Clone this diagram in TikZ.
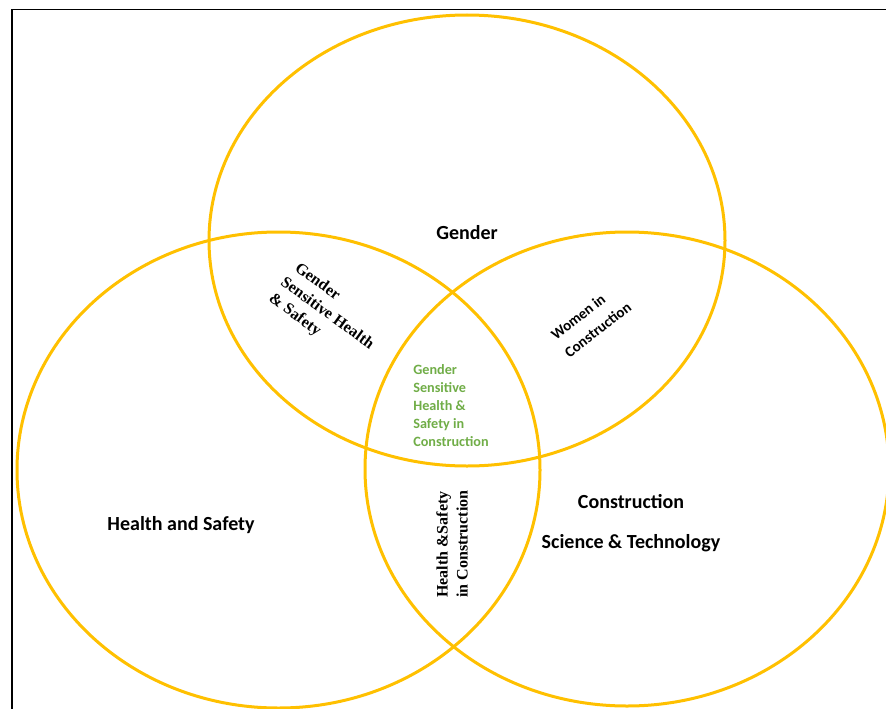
\documentclass[tikz,border=0pt]{standalone}
\usepackage{fontspec}
\setmainfont{Carlito}
\newfontfamily\timesb{Liberation Serif}
\begin{document}
\begin{tikzpicture}[x=1pt,y=-1pt,
  ring/.style={draw=ringgold,line width=3pt},
  mainlbl/.style={font=\fontsize{20}{24}\selectfont\bfseries,text=black,inner sep=0pt},
  seriflbl/.style={font=\timesb\fontsize{16}{20}\selectfont\bfseries,align=left,inner sep=0pt},
  sanslbl/.style={font=\fontsize{15}{22}\selectfont\bfseries,align=left,inner sep=0pt},
  corelbl/.style={font=\fontsize{14.2}{18}\selectfont\bfseries,text=coregreen,align=left,inner sep=0pt}]
\definecolor{ringgold}{HTML}{FFC000}
\definecolor{coregreen}{HTML}{70AD47}
\useasboundingbox (0,0) rectangle (886,709);
\begin{scope}
  \clip (0,0) rectangle (886,709);
  % outer frame
  \draw[line width=1.5pt] (12,9.5) rectangle (900,720);
  % the three sets
  \draw[ring] (467,240.5) ellipse [x radius=258, y radius=225.5];
  \draw[ring] (278.5,470) ellipse [x radius=261.5, y radius=238];
  \draw[ring] (627,469) ellipse [x radius=262, y radius=237];
\end{scope}
% set names
\node[mainlbl] (gender) at (467,233) {Gender};
\node[mainlbl] (hs) at (181,525) {Health and Safety};
\node[mainlbl] (constr) at (631,502) {Construction};
\node[mainlbl] (scitech) at (631,543) {Science \& Technology};
% pairwise overlaps
\node[seriflbl,rotate=-36] (gshs) at (327,314) {\hspace*{3pt}Gender\\Sensitive Health\\\& Safety};
\node[sanslbl,rotate=38] (wic) at (591,321) {Women in\\Construction};
\node[seriflbl,rotate=90] (hsic) at (452,544) {Health \&Safety\\in Construction};
% centre overlap
\node[corelbl] (core) at (451,406) {Gender\\Sensitive\\Health \&\\Safety in\\Construction};
\end{tikzpicture}
\end{document}
